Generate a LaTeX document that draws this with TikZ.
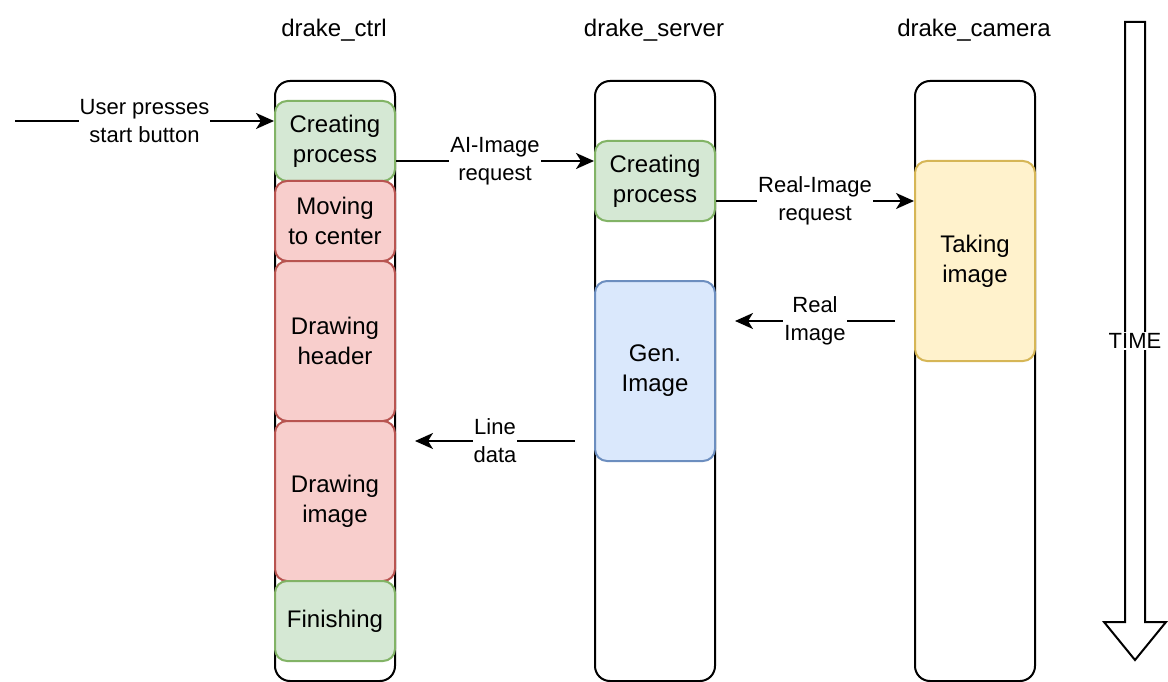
\documentclass[tikz,border=0pt]{standalone}
\usepackage{fontspec}
\setmainfont{Liberation Sans}
\usetikzlibrary{arrows.meta}

\definecolor{greenfill}{HTML}{D5E8D4}
\definecolor{greendraw}{HTML}{82B366}
\definecolor{redfill}{HTML}{F8CECC}
\definecolor{reddraw}{HTML}{B85450}
\definecolor{bluefill}{HTML}{DAE8FC}
\definecolor{bluedraw}{HTML}{6C8EBF}
\definecolor{yellowfill}{HTML}{FFF2CC}
\definecolor{yellowdraw}{HTML}{D6B656}

\tikzset{
  lane/.style={draw=black, line width=2pt, rounded corners=15pt,
    minimum width=120pt, minimum height=600pt, inner sep=0pt},
  phase/.style={rounded corners=12pt, line width=2pt, minimum width=120pt,
    inner sep=0pt, align=center, font=\fontsize{24}{30}\selectfont},
  okbox/.style={phase, fill=greenfill, draw=greendraw},
  busybox/.style={phase, fill=redfill, draw=reddraw},
  genbox/.style={phase, fill=bluefill, draw=bluedraw},
  cambox/.style={phase, fill=yellowfill, draw=yellowdraw},
  header/.style={font=\fontsize{24}{30}\selectfont},
  msg/.style={line width=2pt, -{Stealth[length=18pt,width=16pt,inset=5pt]}},
  msglabel/.style={fill=white, inner sep=1pt, align=center,
    font=\fontsize{22}{28}\selectfont},
}

\begin{document}
\begin{tikzpicture}[x=1pt, y=-1pt]
  \useasboundingbox (0,0) rectangle (1168,682);

  % lanes
  \node[header] (hctrl) at (334,30) {drake\_ctrl};
  \node[header] (hserver) at (654,30) {drake\_server};
  \node[header] (hcamera) at (974,30) {drake\_camera};
  \node[lane] (ctrl) at (335,381) {};
  \node[lane] (server) at (655,381) {};
  \node[lane] (camera) at (975,381) {};

  % drake_ctrl phases
  \node[okbox, minimum height=80pt] (create) at (335,141) {Creating\\process};
  \node[busybox, minimum height=80pt] (move) at (335,221) {Moving\\to center};
  \node[busybox, minimum height=160pt] (header) at (335,341) {Drawing\\header};
  \node[busybox, minimum height=160pt] (drawimg) at (335,501) {Drawing\\image};
  \node[okbox, minimum height=80pt] (finish) at (335,621) {Finishing};

  % drake_server phases
  \node[okbox, minimum height=80pt] (screate) at (655,181) {Creating\\process};
  \node[genbox, minimum height=180pt] (gen) at (655,371) {Gen.\\Image};

  % drake_camera phases
  \node[cambox, minimum height=200pt] (take) at (975,261) {Taking\\image};

  % messages
  \coordinate (start) at (15,121);
  \draw[msg] (start) -- node[msglabel] {User presses\\start button} (create.west |- start);
  \draw[msg] (create.east |- 0,161) -- node[msglabel] {AI-Image\\request} (screate.west |- 0,161);
  \draw[msg] (screate.east |- 0,201) -- node[msglabel] {Real-Image\\request} (take.west |- 0,201);
  \coordinate (realfrom) at (895,321);
  \coordinate (realto) at (735,321);
  \draw[msg] (realfrom) -- node[msglabel] {Real\\Image} (realto);
  \coordinate (linefrom) at (575,441);
  \coordinate (lineto) at (415,441);
  \draw[msg] (linefrom) -- node[msglabel] {Line\\data} (lineto);

  % time arrow
  \draw[line width=2pt, fill=white, line join=miter]
    (1125,22) -- (1145,22) -- (1145,622) -- (1166,622) -- (1135,660)
    -- (1104,622) -- (1125,622) -- cycle;
  \node[msglabel] (time) at (1135,341) {TIME};
\end{tikzpicture}
\end{document}
